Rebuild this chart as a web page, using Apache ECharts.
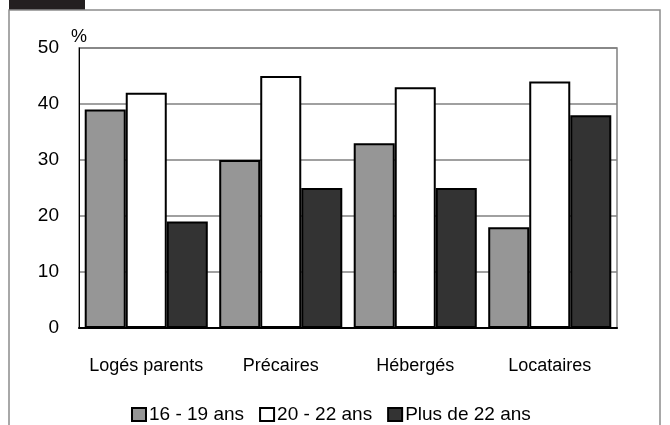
<!DOCTYPE html>
<html>
<head>
<meta charset="utf-8">
<script src="https://cdn.jsdelivr.net/npm/echarts@6/dist/echarts.min.js"></script>
<style>
html,body{margin:0;padding:0;background:#fff;}
#main{width:670px;height:425px;}
</style>
</head>
<body>
<div id="main"></div>
<script>
const categories = ['Logés parents', 'Précaires', 'Hébergés', 'Locataires'];
const seriesNames = ['16 - 19 ans', '20 - 22 ans', 'Plus de 22 ans'];
const s16_19 = [39, 30, 33, 18];
const s20_22 = [42, 45, 43, 44];
const s22plus = [19, 25, 25, 38];
const yTicks = [0, 10, 20, 30, 40, 50];

const FONT = '"Liberation Sans", Arial, sans-serif';
const chart = echarts.init(document.getElementById('main'), null, {renderer: 'canvas'});

const barBase = {
  type: 'bar',
  barGap: '0%',
  barCategoryGap: '8.5%',
  animation: false,
  emphasis: {disabled: true}
};

chart.setOption({
  animation: false,
  backgroundColor: '#ffffff',
  textStyle: {fontFamily: FONT, color: '#000'},
  graphic: [
    {type: 'rect', shape: {x: 9, y: 0, width: 76, height: 10}, style: {fill: '#231f20'}, silent: true},
    {type: 'polyline', shape: {points: [[9, 425], [9, 10], [660, 10], [660, 425]]},
     style: {stroke: '#8c8c8c', lineWidth: 1.5, fill: null}, silent: true}
  ],
  grid: {
    left: 79, right: 53, top: 48, bottom: 97,
    show: true, borderColor: '#808080', borderWidth: 1.5, backgroundColor: 'transparent'
  },
  legend: {
    data: seriesNames,
    left: 131,
    top: 405,
    padding: 0,
    itemWidth: 14,
    itemHeight: 13,
    itemGap: 15,
    icon: 'rect',
    selectedMode: false,
    textStyle: {fontSize: 19, fontFamily: FONT, color: '#000', padding: [0, 0, 0, -2]}
  },
  xAxis: {
    type: 'category',
    data: categories,
    axisLine: {show: true, lineStyle: {color: '#000', width: 2}},
    axisTick: {show: false},
    axisLabel: {interval: 0, fontSize: 18, fontFamily: FONT, color: '#000', margin: 29}
  },
  yAxis: {
    type: 'value',
    min: yTicks[0],
    max: yTicks[yTicks.length - 1],
    interval: 10,
    name: '%',
    nameLocation: 'end',
    nameGap: 2,
    nameTextStyle: {fontSize: 18, fontFamily: FONT, color: '#000', align: 'center', padding: [0, 0, 0, 0]},
    axisLine: {show: true, lineStyle: {color: '#000', width: 1}},
    axisTick: {show: false},
    axisLabel: {fontSize: 19, fontFamily: FONT, color: '#000', margin: 20},
    splitLine: {show: true, lineStyle: {color: '#808080', width: 1.5}}
  },
  series: [
    Object.assign({}, barBase, {name: seriesNames[0], data: s16_19,
      itemStyle: {color: '#969696', borderColor: '#000', borderWidth: 2}}),
    Object.assign({}, barBase, {name: seriesNames[1], data: s20_22,
      itemStyle: {color: '#ffffff', borderColor: '#000', borderWidth: 2}}),
    Object.assign({}, barBase, {name: seriesNames[2], data: s22plus,
      itemStyle: {color: '#333333', borderColor: '#000', borderWidth: 2}})
  ]
});
</script>
</body>
</html>
